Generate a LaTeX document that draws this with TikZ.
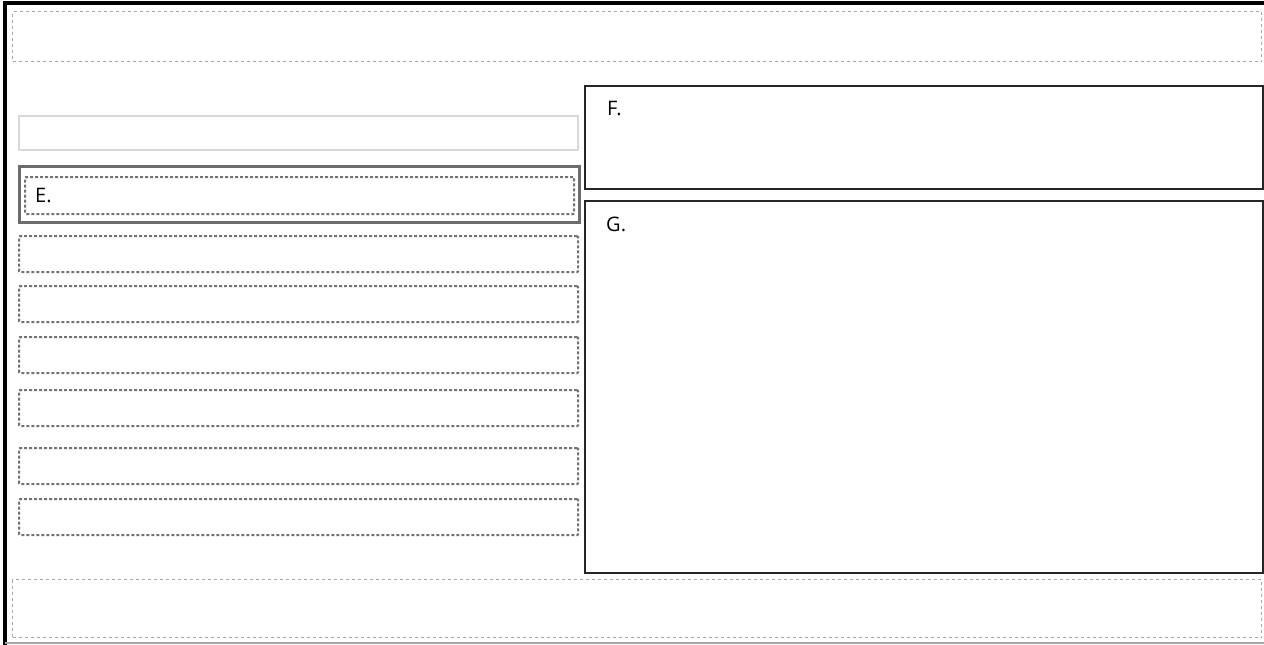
\documentclass[tikz,border=0pt]{standalone}
\usepackage{fontspec}
\setmainfont{Open Sans}
\usetikzlibrary{positioning}

\begin{document}
\begin{tikzpicture}[
    x=1pt, y=-1pt,
    frame/.style = {line width=3.5pt, black},
    region/.style = {rectangle, draw=gray!70, dash pattern=on 3pt off 3pt, line width=1.2pt, minimum width=1249pt, inner sep=0pt, anchor=north west},
    slot/.style = {rectangle, draw=gray!90!black, dash pattern=on 3pt off 2pt, line width=2.2pt, rounded corners=1pt, minimum width=559pt, minimum height=36pt, inner sep=0pt, anchor=north west},
    panel/.style = {rectangle, draw=black!85, line width=2pt, minimum width=678pt, inner sep=0pt, anchor=north west},
    tag/.style = {anchor=north west, inner sep=0pt, font=\fontsize{20pt}{23pt}\selectfont}
]
\useasboundingbox (0,0) rectangle (1264,645);

% Outer frame
\draw[frame] (1264,3) -- (5,3) -- (5,645);
\draw[gray!70, line width=2pt] (5,643) -- (1264,643);

% Header and footer areas
\node[region, minimum height=50pt] (header) at (12,11) {};
\node[region, minimum height=58pt] (footer) at (12,579) {};

% Left column
\node[rectangle, draw=gray!30, line width=2pt, minimum width=559pt, minimum height=34pt, inner sep=0pt, anchor=north west] (search) at (18,115) {};
\node[rectangle, draw=gray!85!black, line width=3pt, minimum width=560pt, minimum height=56pt, inner sep=0pt, anchor=north west] (entry) at (18,165) {};
\node[slot, minimum width=549pt, minimum height=37pt] (entryin) at (24,176) {};
\node[tag] (elabel) at (35,188) {E.};
\node[slot] (rowa) at (18,235) {};
\node[slot] (rowb) at (18,285) {};
\node[slot] (rowc) at (18,336) {};
\node[slot] (rowd) at (18,389) {};
\node[slot] (rowe) at (18,447) {};
\node[slot] (rowf) at (18,498) {};

% Right column
\node[panel, minimum height=103pt] (details) at (584,85) {};
\node[tag] (flabel) at (607,101) {F.};
\node[panel, minimum height=372pt] (viewer) at (584,200) {};
\node[tag] (glabel) at (606,217) {G.};

\end{tikzpicture}
\end{document}
